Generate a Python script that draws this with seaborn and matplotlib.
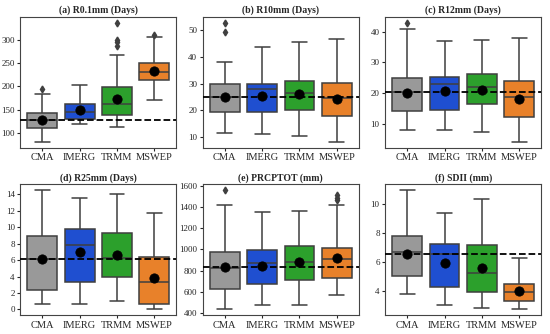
import numpy as np
import pandas as pd
import matplotlib
matplotlib.use("Agg")
import matplotlib.pyplot as plt
from matplotlib.ticker import MultipleLocator
import seaborn as sns

productos = ["CMA", "IMERG", "TRMM", "MSWEP"]
colores = ["#999999", "#1f4fd0", "#2ca02c", "#e8812a"]

titulos = ["(a) R0.1mm (Days)", "(b) R10mm (Days)", "(c) R12mm (Days)",
           "(d) R25mm (Days)", "(e) PRCPTOT (mm)", "(f) SDII (mm)"]

# estadisticos: [bigote inf, Q1, mediana, Q3, bigote sup] por producto
stats_a = [[80, 110, 128, 143, 184], [118, 130, 145, 161, 203],
           [112, 138, 161, 198, 268], [171, 213, 232, 250, 306]]
stats_b = [[11.7, 19.2, 25.0, 29.8, 38.2], [11.3, 19.2, 27.8, 29.8, 43.5],
           [10.6, 20.2, 26.5, 30.8, 45.6], [8.2, 17.8, 24.5, 30.2, 46.8]]
stats_c = [[8.1, 14.3, 20.3, 25.0, 41.0], [8.1, 14.5, 23.0, 25.2, 36.8],
           [7.2, 16.4, 21.9, 26.1, 37.4], [4.1, 12.2, 18.8, 23.8, 37.9]]
stats_d = [[0.65, 2.4, 6.2, 8.9, 14.5], [0.7, 3.4, 7.9, 9.85, 13.55],
           [1.05, 4.0, 6.3, 9.27, 14.1], [0.05, 0.7, 3.3, 6.35, 11.8]]
stats_e = [[438, 631, 822, 972, 1419], [473, 671, 876, 996, 1353],
           [475, 712, 885, 1028, 1366], [567, 734, 913, 1012, 1420]]
stats_f = [[3.74, 5.0, 6.7, 7.8, 10.98], [2.98, 4.28, 6.53, 7.23, 9.42],
           [2.79, 3.88, 5.26, 7.16, 10.4], [2.72, 3.28, 3.9, 4.49, 6.3]]

# medias (punto negro)
medias_a = [128, 148, 172, 233]
medias_b = [25.0, 25.2, 26.0, 24.3]
medias_c = [20.0, 20.7, 21.0, 18.1]
medias_d = [6.2, 6.95, 6.63, 3.8]
medias_e = [832, 848, 882, 922]
medias_f = [6.53, 5.9, 5.58, 3.95]

# atipicos: (indice producto, valor)
atipicos_a = [(0, 195), (2, 288), (2, 295), (2, 300), (2, 336), (3, 310)]
atipicos_b = [(0, 49.4), (0, 52.5)]
atipicos_c = [(0, 42.7)]
atipicos_d = []
atipicos_e = [(0, 1556), (3, 1465), (3, 1488), (3, 1510)]
atipicos_f = []

# linea de referencia (CMA)
referencia = [128, 24.8, 20.2, 6.18, 832, 6.56]

paneles = [
    (stats_a, medias_a, atipicos_a),
    (stats_b, medias_b, atipicos_b),
    (stats_c, medias_c, atipicos_c),
    (stats_d, medias_d, atipicos_d),
    (stats_e, medias_e, atipicos_e),
    (stats_f, medias_f, atipicos_f),
]

sns.set_style("ticks")
plt.rcParams['font.family'] = ['Liberation Serif', 'DejaVu Serif']

fig, axes = plt.subplots(2, 3, figsize=(5.5, 3.34), dpi=100)
fig.subplots_adjust(left=0.037, right=0.984, top=0.948, bottom=0.057,
                    wspace=0.17, hspace=0.28)

for k, (ax, (stats, medias, atipicos)) in enumerate(zip(axes.flat, paneles)):
    filas = []
    for prod, st in zip(productos, stats):
        for v in st:
            filas.append({'producto': prod, 'valor': v})
    df = pd.DataFrame(filas)

    sns.boxplot(data=df, x='producto', y='valor', hue='producto', order=productos,
                palette=colores, saturation=1, whis=(0, 100), showfliers=False,
                width=0.8, linecolor='#3f3f3f', linewidth=1.1, legend=False, ax=ax)

    if atipicos:
        xs = [a[0] for a in atipicos]
        ys = [a[1] for a in atipicos]
        ax.plot(xs, ys, linestyle='none', marker='d', markersize=3.5,
                color='#3f3f3f', zorder=3)

    ax.axhline(referencia[k], color='black', linestyle='--', linewidth=1.3, zorder=4)

    sns.scatterplot(x=np.arange(len(productos)), y=medias, color='black', s=45,
                    edgecolor='black', zorder=6, ax=ax)

    ax.set_title(titulos[k], fontsize=7, fontweight='bold', pad=3)
    ax.set_xlabel('')
    ax.set_ylabel('')
    ax.tick_params(axis='x', labelsize=7.5, length=2.5, pad=1.5)
    ax.tick_params(axis='y', labelsize=6.5, length=2.5, pad=1.5)
    for sp in ax.spines.values():
        sp.set_color('#444444')
        sp.set_linewidth(0.8)

# panel (d) con marcas enteras cada 2
axes[1, 0].yaxis.set_major_locator(MultipleLocator(2))

plt.savefig('out.png', dpi=100)
